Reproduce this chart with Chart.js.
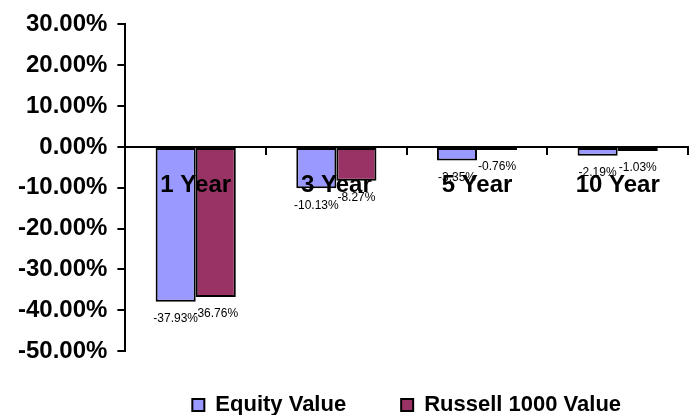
<!DOCTYPE html>
<html>
<head>
<meta charset="utf-8">
<script src="https://cdn.jsdelivr.net/npm/chart.js@4.4.0/dist/chart.umd.min.js"></script>
<style>
  html, body { margin: 0; padding: 0; background: #fff; }
  canvas { display: block; }
</style>
</head>
<body>
<canvas id="chart" width="692" height="415"></canvas>
<script>
  // data
  var periods = ['1 Year', '3 Year', '5 Year', '10 Year'];
  var equityValue = [-37.93, -10.13, -3.35, -2.19];
  var russell1000Value = [-36.76, -8.27, -0.76, -1.03];
  var yTicks = { min: -50, max: 30, step: 10 };

  var font = 'Arial, "Liberation Sans", sans-serif';

  // small value labels under the end of each bar
  var barLabels = {
    id: 'barLabels',
    afterDatasetsDraw: function (chart) {
      var ctx = chart.ctx;
      ctx.save();
      ctx.font = '12px ' + font;
      ctx.fillStyle = '#000';
      ctx.textAlign = 'center';
      ctx.textBaseline = 'middle';
      chart.data.datasets.forEach(function (ds, i) {
        chart.getDatasetMeta(i).data.forEach(function (bar, j) {
          ctx.fillText(ds.data[j].toFixed(2) + '%', bar.x, bar.y + 17);
        });
      });
      ctx.restore();
    }
  };

  var ctx = document.getElementById('chart').getContext('2d');
  window.returnsChart = new Chart(ctx, {
    type: 'bar',
    data: {
      labels: periods,
      datasets: [
        {
          label: 'Equity Value',
          data: equityValue,
          backgroundColor: '#9999FF',
          borderColor: '#000',
          borderWidth: 2,
          borderSkipped: false
        },
        {
          label: 'Russell 1000 Value',
          data: russell1000Value,
          backgroundColor: '#993366',
          borderColor: '#000',
          borderWidth: 2,
          borderSkipped: false
        }
      ]
    },
    options: {
      responsive: false,
      animation: false,
      categoryPercentage: 0.57,
      barPercentage: 1,
      layout: { padding: { top: 9, right: 4, left: 8, bottom: -11 } },
      plugins: {
        tooltip: { enabled: false },
        legend: {
          position: 'bottom',
          fullSize: false,
          title: {
            // empty title only used as a spacer above the entries
            display: true,
            text: '',
            font: { size: 10 },
            padding: { top: 31, bottom: 0 }
          },
          labels: {
            boxWidth: 12,
            boxHeight: 12,
            padding: 0,
            color: '#000',
            font: { family: font, size: 22, weight: 'bold' },
            generateLabels: function (chart) {
              var items = Chart.defaults.plugins.legend.labels.generateLabels(chart);
              // wide gap between the two entries
              items[0].text += '\u00a0\u00a0\u00a0\u00a0\u00a0\u00a0\u00a0\u00a0\u00a0';
              return items;
            }
          }
        }
      },
      scales: {
        x: {
          type: 'category',
          position: { y: 0 },
          offset: true,
          border: { color: '#000', width: 2, z: 1 },
          grid: { offset: true, drawOnChartArea: false, tickLength: 7, color: '#000', lineWidth: 2, z: 1 },
          ticks: {
            z: 1,
            autoSkip: false,
            maxRotation: 0,
            color: '#000',
            padding: 17,
            font: { family: font, size: 24, weight: 'bold' }
          }
        },
        y: {
          min: yTicks.min,
          max: yTicks.max,
          border: { color: '#000', width: 2 },
          grid: { drawOnChartArea: false, tickLength: 8, color: '#000', lineWidth: 2 },
          ticks: {
            stepSize: yTicks.step,
            color: '#000',
            padding: 10,
            font: { family: font, size: 24, weight: 'bold' },
            callback: function (v) { return v.toFixed(2) + '%'; }
          }
        }
      }
    },
    plugins: [barLabels]
  });
</script>
</body>
</html>
